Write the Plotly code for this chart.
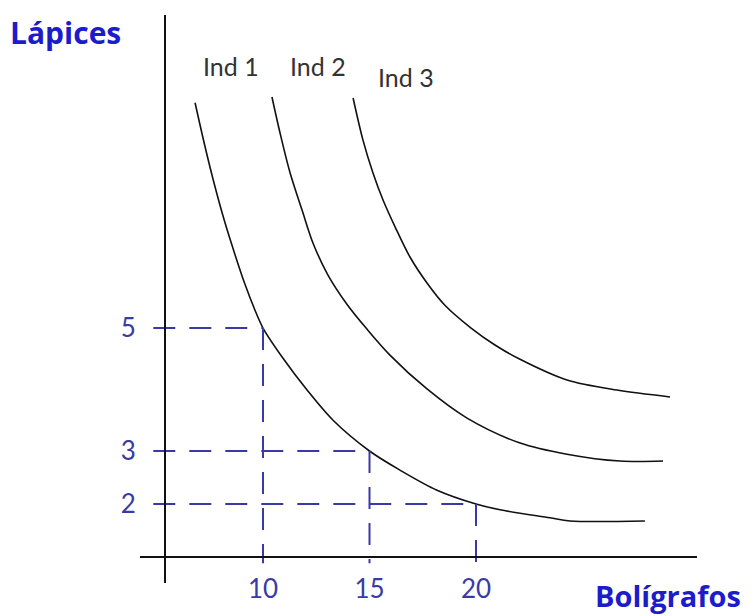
import plotly.graph_objects as go

# ---- data ----
ind1_x = [6.81, 7.28, 7.75, 8.22, 8.69, 9.15, 9.62, 10.0, 10.94, 12.07, 13.29, 15.0, 16.43, 18.17, 20.0, 21.13, 23.47, 24.41, 27.93]
ind1_y = [9.57, 8.74, 7.98, 7.30, 6.70, 6.15, 5.66, 5.32, 4.75, 4.15, 3.58, 3.00, 2.64, 2.26, 2.00, 1.89, 1.74, 1.68, 1.68]

ind2_x = [10.42, 10.80, 11.27, 11.83, 12.35, 13.05, 13.94, 14.88, 15.96, 17.70, 19.58, 22.07, 24.27, 26.76, 28.78]
ind2_y = [9.68, 9.00, 8.25, 7.55, 6.92, 6.32, 5.77, 5.30, 4.81, 4.17, 3.62, 3.15, 2.94, 2.81, 2.81]

ind3_x = [14.23, 14.69, 15.16, 15.63, 16.20, 16.90, 17.70, 18.54, 19.77, 20.89, 22.02, 24.27, 26.62, 29.11]
ind3_y = [9.66, 8.87, 8.25, 7.74, 7.23, 6.66, 6.17, 5.75, 5.32, 5.00, 4.74, 4.34, 4.15, 4.02]

curve_names = ["Ind 1", "Ind 2", "Ind 3"]

x_tick_vals = [10, 15, 20]
x_tick_text = ["10", "15", "20"]
y_tick_vals = [2, 3, 5.32]
y_tick_text = ["2", "3", "5"]

# chosen bundles on Ind 1 (x, y)
point_x = [10, 15, 20]
point_y = [5.32, 3.0, 2.0]

# page body has an 8px margin; figure is laid out in its own pixels
OFF = 8
W, H = 756 - OFF, 616 - OFF
BLUE_T = "#3a3aa6"
BLUE_H = "#1c1ccc"
DASH = "22px,14px"

fig = go.Figure()

for xs, ys in [(ind1_x, ind1_y), (ind2_x, ind2_y), (ind3_x, ind3_y)]:
    fig.add_trace(go.Scatter(x=xs, y=ys, mode="lines",
                             line=dict(color="#111111", width=1.6, shape="spline", smoothing=0.9),
                             showlegend=False, hoverinfo="skip"))

# dashed guide lines
for px_, py_ in zip(point_x, point_y):
    fig.add_trace(go.Scatter(x=[4.85, px_], y=[py_, py_], mode="lines",
                             line=dict(color=BLUE_T, width=2, dash=DASH), showlegend=False, hoverinfo="skip"))
    fig.add_trace(go.Scatter(x=[px_, px_], y=[py_, 0.88], mode="lines",
                             line=dict(color=BLUE_T, width=2, dash=DASH), showlegend=False, hoverinfo="skip"))

# screen-pixel geometry of the reference
x0_px, x1_px = 140, 697
y0_px, y1_px = 583, 15
xrange = [10 - (263 - x0_px) / 21.3, 10 + (x1_px - 263) / 21.3]
yrange = [2 - (y0_px - 504) / 53, 2 + (504 - y1_px) / 53]

fig.update_layout(
    width=W, height=H,
    margin=dict(l=0, r=0, t=0, b=0),
    paper_bgcolor="white", plot_bgcolor="white",
    font=dict(family="Lato, Calibri, sans-serif"),
    xaxis=dict(domain=[(x0_px - OFF) / W, (x1_px - OFF) / W], range=xrange, anchor="free",
               position=(H - (557 - OFF)) / H, showgrid=False, zeroline=False,
               showline=True, linecolor="#111111", linewidth=2, ticks="",
               tickvals=x_tick_vals, ticktext=x_tick_text, ticklabelstandoff=9,
               tickfont=dict(size=26, color=BLUE_T, family="Lato"), fixedrange=True),
    yaxis=dict(domain=[(H - (y0_px - OFF)) / H, (H - (y1_px - OFF)) / H], range=yrange, anchor="free",
               position=(165 - OFF) / W, showgrid=False, zeroline=False,
               showline=True, linecolor="#111111", linewidth=2, ticks="",
               tickvals=y_tick_vals, ticktext=y_tick_text, ticklabelstandoff=23,
               tickfont=dict(size=26, color=BLUE_T, family="Lato"), fixedrange=True),
)

label_pos = [(8.50, 10.27), (12.56, 10.27), (16.71, 10.06)]
for name, (lx, ly) in zip(curve_names, label_pos):
    fig.add_annotation(x=lx, y=ly, xref="x", yref="y", text=name, showarrow=False,
                       font=dict(size=25, color="#333333", family="Lato"))

fig.add_annotation(x=0, y=(H - (32 - OFF)) / H, xref="paper", yref="paper",
                   text="<b>Lápices</b>", showarrow=False, xanchor="left", yanchor="middle",
                   font=dict(size=30, color=BLUE_H, family="Open Sans"))
fig.add_annotation(x=(594 - OFF) / W, y=0, xref="paper", yref="paper",
                   text="<b>Bolígrafos</b>", showarrow=False, xanchor="left", yanchor="bottom",
                   borderpad=0,
                   font=dict(size=29, color=BLUE_H, family="Open Sans"))

fig.write_html("out.html")
